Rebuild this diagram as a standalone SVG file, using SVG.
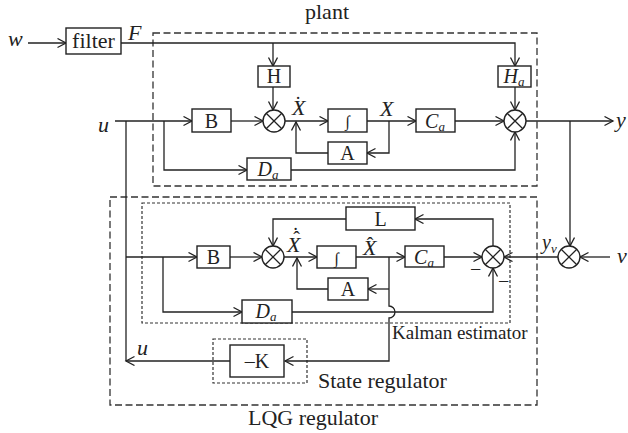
<svg xmlns="http://www.w3.org/2000/svg" width="628" height="433" viewBox="0 0 628 433">
<style>
.ln{stroke:#222;stroke-width:1.3;fill:none}
.ar{marker-end:url(#ah)}
.bx{fill:#fff;stroke:#222;stroke-width:1.4}
.dl{fill:none;stroke:#333;stroke-width:1.3;stroke-dasharray:7 3.5}
.ds{fill:none;stroke:#333;stroke-width:1.2;stroke-dasharray:3 2}
text{font-family:"Liberation Serif","Times New Roman",serif;fill:#222;font-size:20px}
.c{text-anchor:middle}
.i{font-style:italic}
.sub{font-size:13px}
.big{font-size:22px}
</style>
<defs>
<marker id="ah" markerUnits="userSpaceOnUse" markerWidth="12" markerHeight="12" refX="9" refY="5" orient="auto">
<path d="M0.5,0.5 L9,5 L0.5,9.5" fill="none" stroke="#222" stroke-width="1.3"/>
</marker>
<g id="sum">
<circle r="11" fill="#fff" stroke="#222" stroke-width="1.4"/>
<path d="M-7.8,-7.8 L7.8,7.8 M7.8,-7.8 L-7.8,7.8" stroke="#222" stroke-width="1.3"/>
</g>
</defs>

<!-- dashed containers -->
<g id="plant-box">
<rect class="dl" x="153" y="33" width="384" height="153"/>
<text class="big" x="305" y="19">plant</text>
</g>
<g id="lqg-box">
<rect class="dl" x="110" y="197" width="427" height="208"/>
<text class="big c" x="313" y="425">LQG regulator</text>
</g>
<g id="kalman-box">
<rect class="ds" x="142" y="203" width="368" height="120"/>
<text x="392" y="339" style="font-size:19px">Kalman estimator</text>
</g>
<g id="state-box">
<rect class="ds" x="213" y="339" width="94" height="44"/>
<text class="big" x="318" y="388">State regulator</text>
</g>

<!-- connectors -->
<g id="connectors">
<path class="ln ar" d="M28,43 H66"/>
<path class="ln ar" d="M121,43 H515 V66"/>
<path class="ln ar" d="M273,43 V66"/>
<path class="ln ar" d="M273,87 V110"/>
<path class="ln ar" d="M515,87 V110"/>
<path class="ln ar" d="M115,121 H192"/>
<path class="ln ar" d="M231,121 H263"/>
<path class="ln ar" d="M285,121 H328"/>
<path class="ln ar" d="M367,121 H416"/>
<path class="ln ar" d="M455,121 H504"/>
<path class="ln ar" d="M526,121 H613"/>
<path class="ln ar" d="M389,121 V153 H367"/>
<path class="ln ar" d="M328,153 H296 V122"/>
<path class="ln ar" d="M164,121 V170 H247"/>
<path class="ln ar" d="M291,170 H515 V132"/>
<path class="ln" d="M126,121 V361"/>
<path class="ln ar" d="M570,121 V246"/>
<path class="ln ar" d="M610,257 H580"/>
<path class="ln ar" d="M558,257 H504"/>
<path class="ln ar" d="M126,257 H197"/>
<path class="ln ar" d="M230,257 H262"/>
<path class="ln ar" d="M493,246 V219 H415"/>
<path class="ln ar" d="M346,219 H273 V246"/>
<path class="ln ar" d="M284,257 H317"/>
<path class="ln ar" d="M356,257 H405"/>
<path class="ln ar" d="M444,257 H482"/>
<path class="ln ar" d="M389,257 V306 A6,6 0 0 1 389,318 V361 H285"/>
<path class="ln ar" d="M230,361 H126"/>
<path class="ln ar" d="M389,289 H368"/>
<path class="ln ar" d="M328,289 H297 V258"/>
<path class="ln ar" d="M163,257 V312 H242"/>
<path class="ln ar" d="M292,312 H493 V268"/>
</g>

<!-- input/output labels -->
<g id="labels">
<text class="i big" x="8" y="46">w</text>
<text class="i big" x="128" y="40">F</text>
<text class="i big" x="98" y="132">u</text>
<text class="i big" x="616" y="127">y</text>
<text class="i big" x="617" y="263">v</text>
<text class="i big" x="137" y="355">u</text>
<text class="i" x="542" y="249">y<tspan class="sub" dy="4">v</tspan></text>
<text class="i big" x="292" y="115">X</text>
<text class="c" x="298" y="111">˙</text>
<text class="i big" x="380" y="116">X</text>
<text class="i big" x="287" y="252">X</text>
<text class="c" x="296.5" y="245.5">ˆ</text>
<text class="c" x="295.5" y="242">˙</text>
<text class="i big" x="363" y="255">X</text>
<text class="c" x="370" y="251.5">ˆ</text>
<text x="470" y="276">−</text>
<text x="498" y="288">−</text>
</g>

<g id="filter"><rect class="bx" x="66" y="28" width="55" height="26"/><text class="big c" x="93.5" y="48">filter</text></g>
<g id="H"><rect class="bx" x="258" y="66" width="32" height="21"/><text class="c" x="274" y="83">H</text></g>
<g id="Ha"><rect class="bx" x="498" y="66" width="33" height="21"/><text class="c i" x="514" y="83">H<tspan class="sub" dy="3">a</tspan></text></g>
<g id="sum1"><use href="#sum" x="274" y="121"/></g>
<g id="sum2"><use href="#sum" x="515" y="121"/></g>
<g id="B1"><rect class="bx" x="192" y="109" width="39" height="23"/><text class="c" x="211.5" y="128">B</text></g>
<g id="int1"><rect class="bx" x="328" y="109" width="39" height="23"/><text class="c" x="347.5" y="127" style="font-size:16px">∫</text></g>
<g id="Ca1"><rect class="bx" x="416" y="109" width="39" height="23"/><text class="c i" x="435" y="128">C<tspan class="sub" dy="3">a</tspan></text></g>
<g id="A1"><rect class="bx" x="328" y="142" width="39" height="22"/><text class="c" x="347.5" y="160">A</text></g>
<g id="Da1"><rect class="bx" x="247" y="158" width="44" height="22"/><text class="c i" x="268" y="176">D<tspan class="sub" dy="3">a</tspan></text></g>
<g id="sum3"><use href="#sum" x="569" y="257"/></g>
<g id="B2"><rect class="bx" x="197" y="246" width="33" height="22"/><text class="c" x="213.5" y="264">B</text></g>
<g id="sum4"><use href="#sum" x="273" y="257"/></g>
<g id="L"><rect class="bx" x="346" y="207" width="69" height="23"/><text class="c" x="380.5" y="226">L</text></g>
<g id="int2"><rect class="bx" x="317" y="246" width="39" height="22"/><text class="c" x="336.5" y="264" style="font-size:16px">∫</text></g>
<g id="Ca2"><rect class="bx" x="405" y="246" width="39" height="21"/><text class="c i" x="424" y="264">C<tspan class="sub" dy="3">a</tspan></text></g>
<g id="sum5"><use href="#sum" x="493" y="257"/></g>
<g id="A2"><rect class="bx" x="328" y="278" width="40" height="22"/><text class="c" x="348" y="296">A</text></g>
<g id="Da2"><rect class="bx" x="242" y="300" width="50" height="23"/><text class="c i" x="266" y="318">D<tspan class="sub" dy="3">a</tspan></text></g>
<g id="K"><rect class="bx" x="230" y="345" width="54" height="32"/><text class="c" x="257" y="368">–K</text></g>
</svg>
